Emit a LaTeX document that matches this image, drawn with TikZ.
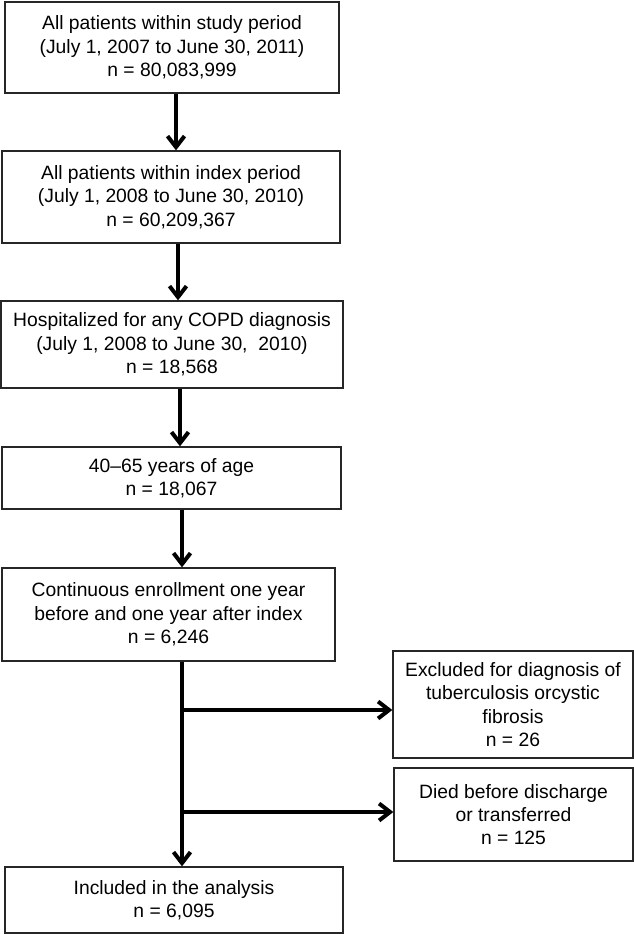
\documentclass[tikz,border=0pt]{standalone}
\usepackage{fontspec}
\setmainfont{Liberation Sans}
\usetikzlibrary{arrows.meta}
\begin{document}
\begin{tikzpicture}[x=1pt,y=-1pt,
  box/.style={draw=black!85,line width=1.3pt,rectangle,inner sep=0pt,align=center,
    font=\fontsize{19.3}{23.3}\selectfont},
  arr/.style={line width=4pt,-{Straight Barb[length=11pt,width=17pt]}}]
\useasboundingbox (0,0) rectangle (634,934);
\node[box,minimum width=334,minimum height=91] (b1) at (172,47.5)
  {All patients within study period\\(July 1, 2007 to June 30, 2011)\\n = 80,083,999};
\node[box,minimum width=338,minimum height=92] (b2) at (171,197)
  {All patients within index period\\(July 1, 2008 to June 30, 2010)\\n = 60,209,367};
\node[box,minimum width=342,minimum height=87] (b3) at (172,344.5)
  {Hospitalized for any COPD diagnosis\\(July 1, 2008 to June 30,~ 2010)\\n = 18,568};
\node[box,minimum width=339,minimum height=62] (b4) at (171.5,478)
  {40–65 years of age\\n = 18,067};
\node[box,minimum width=333,minimum height=93] (b5) at (168.5,614.5)
  {Continuous enrollment one year\\before and one year after index\\n = 6,246};
\node[box,minimum width=338,minimum height=66] (b6) at (174,900)
  {Included in the analysis\\n = 6,095};
\node[box,minimum width=240,minimum height=107] (b7) at (513,704.5)
  {Excluded for diagnosis of\\tuberculosis orcystic\\fibrosis\\n = 26};
\node[box,minimum width=239,minimum height=93] (b8) at (513.5,814.5)
  {Died before discharge\\or transferred\\n = 125};
\coordinate (x1) at (176,0);
\coordinate (x2) at (178,0);
\coordinate (x3) at (180,0);
\coordinate (x4) at (182,0);
\coordinate (xm) at (182,0);
\coordinate (j1) at (182,710);
\coordinate (j2) at (182,812);
\draw[arr] (b1.south -| x1) -- (b2.north -| x1);
\draw[arr] (b2.south -| x2) -- (b3.north -| x2);
\draw[arr] (b3.south -| x3) -- (b4.north -| x3);
\draw[arr] (b4.south -| x4) -- (b5.north -| x4);
\draw[arr] (b5.south -| xm) -- (b6.north -| xm);
\draw[arr,shorten <=-2pt] (j1) -- (j1 -| b7.west);
\draw[arr,shorten <=-2pt] (j2) -- (j2 -| b8.west);
\end{tikzpicture}
\end{document}
